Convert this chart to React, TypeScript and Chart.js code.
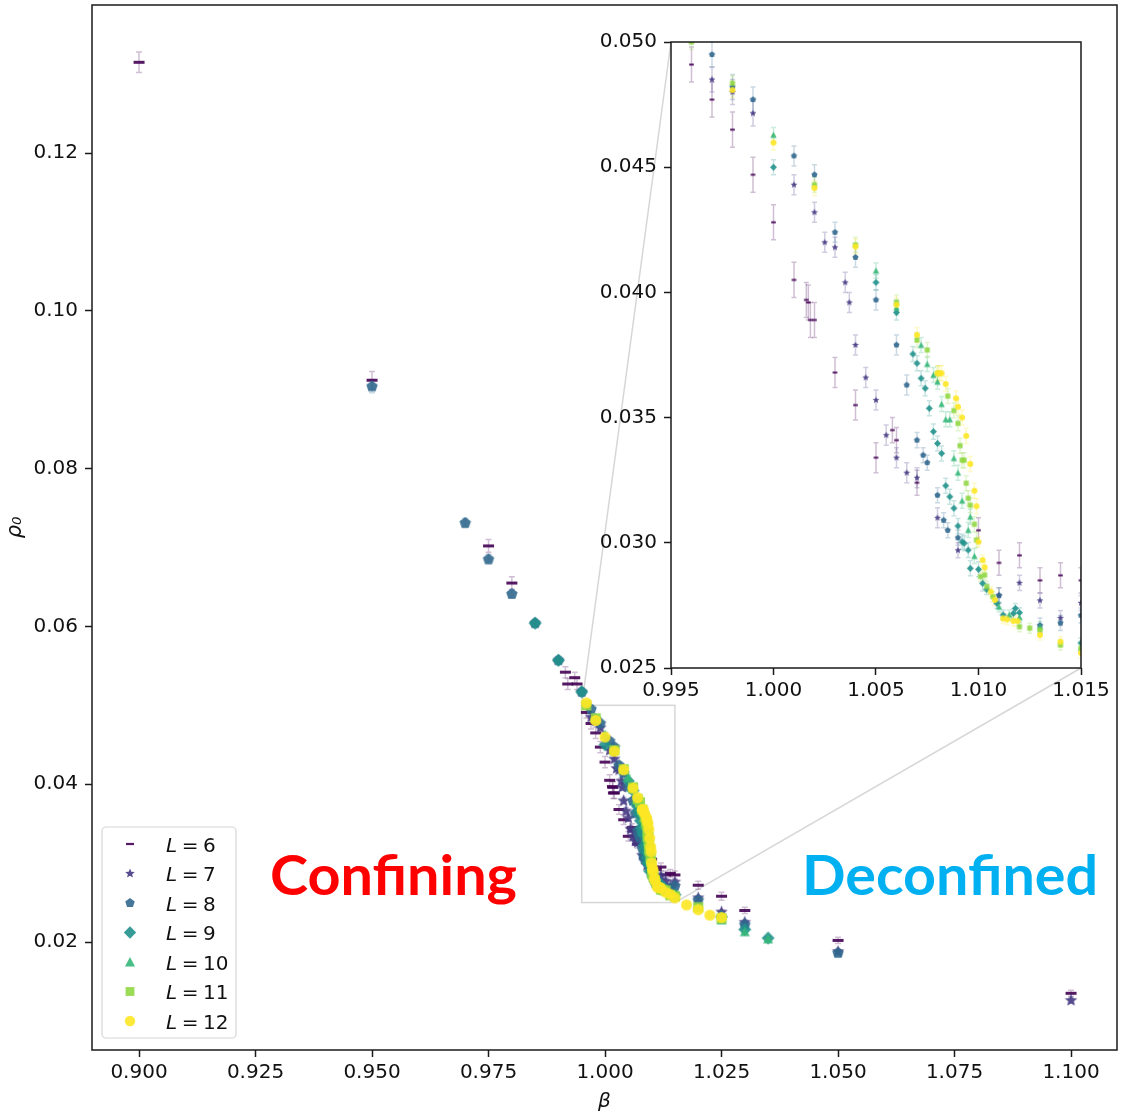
import React, { useEffect, useRef } from 'react';
import { Chart, registerables } from 'chart.js';

Chart.register(...registerables);

// ---------------- data ----------------
const SERIES_L = [6, 7, 8, 9, 10, 11, 12];
const SERIES_COLORS = ['#440154', '#443983', '#31688e', '#21918c', '#35b779', '#90d743', '#fde725'];
const SERIES_SHAPES = ['dash', 'star', 'pentagon', 'diamond', 'triangle', 'square', 'circle'];

const BETA_L6 = [0.9, 0.95, 0.975, 0.98, 0.9915, 0.992, 0.9935, 0.994, 0.996, 0.997, 0.998, 0.999, 1.0, 1.001, 1.0016, 1.0017, 1.0018, 1.002, 1.003, 1.004, 1.005, 1.0058, 1.006, 1.007, 1.01, 1.011, 1.012, 1.013, 1.014, 1.015, 1.02, 1.025, 1.03, 1.05, 1.1];
const RHO_L6 = [0.1315, 0.0912, 0.0702, 0.0655, 0.0542, 0.0527, 0.0535, 0.0527, 0.0491, 0.0477, 0.0465, 0.0447, 0.0428, 0.0405, 0.0397, 0.0396, 0.0389, 0.0389, 0.0368, 0.0355, 0.0334, 0.0345, 0.0341, 0.0324, 0.0305, 0.0292, 0.0295, 0.0285, 0.0287, 0.0285, 0.0272, 0.0258, 0.024, 0.0202, 0.0135];
const ERR_L6 = [0.0013, 0.0011, 0.0008, 0.0008, 0.0007, 0.0007, 0.0007, 0.0007, 0.0007, 0.0007, 0.0007, 0.0007, 0.0007, 0.0007, 0.0007, 0.0007, 0.0007, 0.0007, 0.0006, 0.0006, 0.0006, 0.0005, 0.0005, 0.0005, 0.0005, 0.0005, 0.0005, 0.0005, 0.0005, 0.0005, 0.0005, 0.0005, 0.0004, 0.0004, 0.0004];

const BETA_L7 = [0.997, 0.998, 0.999, 1.001, 1.002, 1.0025, 1.003, 1.0035, 1.0037, 1.004, 1.0045, 1.005, 1.0055, 1.006, 1.0065, 1.007, 1.008, 1.009, 1.011, 1.012, 1.013, 1.014, 1.015, 1.02, 1.025, 1.03, 1.05, 1.1];
const RHO_L7 = [0.0485, 0.048, 0.04715, 0.0443, 0.0432, 0.042, 0.0418, 0.0404, 0.0396, 0.0379, 0.0366, 0.0357, 0.0343, 0.0334, 0.0328, 0.0326, 0.031, 0.0297, 0.0279, 0.0284, 0.0277, 0.027, 0.0276, 0.0256, 0.0238, 0.0225, 0.0188, 0.0126];
const ERR_L7 = [0.0005, 0.0005, 0.0005, 0.0004, 0.0004, 0.0004, 0.0004, 0.0004, 0.0004, 0.0004, 0.0004, 0.0004, 0.0004, 0.0004, 0.0004, 0.0004, 0.0004, 0.0003, 0.0003, 0.0003, 0.0003, 0.0003, 0.0003, 0.0003, 0.0003, 0.0003, 0.0003, 0.0003];

const BETA_L8 = [0.95, 0.97, 0.975, 0.98, 0.985, 0.99, 0.995, 0.997, 0.998, 0.999, 1.001, 1.002, 1.003, 1.004, 1.005, 1.006, 1.0065, 1.007, 1.0073, 1.0075, 1.008, 1.0083, 1.0085, 1.009, 1.011, 1.013, 1.014, 1.015, 1.02, 1.03, 1.05];
const RHO_L8 = [0.0904, 0.0731, 0.0685, 0.0641, 0.0604, 0.0557, 0.0517, 0.0495, 0.0482, 0.0477, 0.04545, 0.0447, 0.0424, 0.0414, 0.0397, 0.0379, 0.0363, 0.0341, 0.0335, 0.0332, 0.0319, 0.0309, 0.0305, 0.0302, 0.0279, 0.0267, 0.0268, 0.0271, 0.0253, 0.0222, 0.0186];
const ERR_L8 = [0.0008, 0.0006, 0.0006, 0.0005, 0.0005, 0.0005, 0.0005, 0.0005, 0.0005, 0.0005, 0.0004, 0.0004, 0.0004, 0.0004, 0.0004, 0.0004, 0.0004, 0.0003, 0.0003, 0.0003, 0.0003, 0.0003, 0.0003, 0.0003, 0.0003, 0.0003, 0.0003, 0.0003, 0.0003, 0.0003, 0.0003];

const BETA_L9 = [0.985, 0.99, 0.995, 1.0, 1.005, 1.006, 1.0068, 1.007, 1.0072, 1.0074, 1.0076, 1.0078, 1.008, 1.0082, 1.0084, 1.0086, 1.0088, 1.009, 1.0092, 1.0093, 1.0095, 1.0096, 1.01, 1.0102, 1.0104, 1.0109, 1.0112, 1.0117, 1.0118, 1.012, 1.015, 1.025, 1.03, 1.035];
const RHO_L9 = [0.0604, 0.0557, 0.0517, 0.045, 0.0404, 0.0392, 0.03754, 0.03717, 0.03657, 0.03617, 0.03537, 0.03444, 0.03397, 0.03357, 0.03228, 0.03184, 0.03138, 0.03067, 0.03004, 0.02998, 0.02971, 0.02898, 0.02894, 0.02838, 0.02814, 0.02758, 0.02712, 0.02718, 0.02738, 0.02721, 0.026, 0.0232, 0.0216, 0.0205];
const ERR_L9 = [0.0004, 0.0004, 0.0003, 0.0003, 0.0003, 0.0003, 0.0003, 0.0003, 0.0003, 0.0003, 0.0003, 0.0003, 0.0003, 0.0003, 0.0003, 0.0003, 0.0003, 0.0003, 0.0003, 0.0003, 0.0003, 0.0003, 0.0003, 0.0003, 0.0002, 0.0002, 0.0002, 0.0002, 0.0002, 0.0002, 0.0002, 0.0002, 0.0002, 0.0002];

const BETA_L10 = [1.0, 1.005, 1.006, 1.0072, 1.0075, 1.0078, 1.008, 1.0082, 1.0084, 1.0086, 1.0088, 1.009, 1.0092, 1.0095, 1.0096, 1.0098, 1.011, 1.0115, 1.012, 1.013, 1.015, 1.025, 1.03, 1.035];
const RHO_L10 = [0.04629, 0.04087, 0.0394, 0.0379, 0.03714, 0.0367, 0.03643, 0.03554, 0.03493, 0.03493, 0.03338, 0.0328, 0.03168, 0.03051, 0.03104, 0.02947, 0.02745, 0.02712, 0.02702, 0.02665, 0.0258, 0.0228, 0.0213, 0.0204];
const ERR_L10 = [0.0003, 0.0003, 0.0003, 0.0003, 0.0003, 0.0003, 0.0003, 0.0003, 0.0003, 0.0003, 0.0003, 0.0003, 0.0003, 0.0003, 0.0003, 0.0003, 0.0002, 0.0002, 0.0002, 0.0002, 0.0002, 0.0002, 0.0002, 0.0002];

const BETA_L11 = [0.996, 0.998, 1.002, 1.004, 1.006, 1.007, 1.0075, 1.008, 1.0085, 1.0088, 1.009, 1.0091, 1.0092, 1.0093, 1.0094, 1.0095, 1.0096, 1.0098, 1.0099, 1.0101, 1.0103, 1.0104, 1.0107, 1.012, 1.0125, 1.013, 1.014, 1.015, 1.02, 1.025];
const RHO_L11 = [0.05, 0.04835, 0.0443, 0.0419, 0.0396, 0.0381, 0.0377, 0.03677, 0.03586, 0.03528, 0.03477, 0.03388, 0.0333, 0.0333, 0.03238, 0.03178, 0.0315, 0.03074, 0.03011, 0.02865, 0.02871, 0.02825, 0.02785, 0.02665, 0.02659, 0.02652, 0.02592, 0.0258, 0.0244, 0.023];
const ERR_L11 = [0.0003, 0.0003, 0.0003, 0.0003, 0.0003, 0.0003, 0.0003, 0.0003, 0.0003, 0.0003, 0.0003, 0.0003, 0.0003, 0.0003, 0.0003, 0.0003, 0.0003, 0.0003, 0.0003, 0.0002, 0.0002, 0.0002, 0.0002, 0.0002, 0.0002, 0.0002, 0.0002, 0.0002, 0.0002, 0.0002];

const BETA_L12 = [0.996, 0.998, 1.0, 1.002, 1.004, 1.006, 1.007, 1.008, 1.0081, 1.0082, 1.0084, 1.0089, 1.009, 1.0092, 1.0094, 1.0096, 1.0098, 1.0099, 1.01, 1.0102, 1.0103, 1.0106, 1.0108, 1.0112, 1.0114, 1.0117, 1.0119, 1.013, 1.014, 1.015, 1.0175, 1.02, 1.0225, 1.025];
const RHO_L12 = [0.0503, 0.04808, 0.04598, 0.04417, 0.04183, 0.0395, 0.0383, 0.03677, 0.03677, 0.03677, 0.03634, 0.03577, 0.03543, 0.035, 0.03427, 0.03315, 0.03208, 0.03146, 0.03004, 0.02931, 0.02902, 0.02805, 0.02772, 0.02698, 0.02694, 0.02688, 0.02688, 0.02632, 0.02605, 0.0256, 0.0247, 0.0241, 0.0234, 0.0231];
const ERR_L12 = [0.0003, 0.0003, 0.0003, 0.0003, 0.0003, 0.0003, 0.0003, 0.0003, 0.0003, 0.0003, 0.0003, 0.0003, 0.0003, 0.0003, 0.0003, 0.0003, 0.0003, 0.0003, 0.0002, 0.0002, 0.0002, 0.0002, 0.0002, 0.0002, 0.0002, 0.0002, 0.0002, 0.0002, 0.0002, 0.0002, 0.0002, 0.0002, 0.0002, 0.0002];

const MAIN_X_TICKS = [0.9, 0.925, 0.95, 0.975, 1.0, 1.025, 1.05, 1.075, 1.1];
const MAIN_Y_TICKS = [0.02, 0.04, 0.06, 0.08, 0.1, 0.12];
const INSET_X_TICKS = [0.995, 1.0, 1.005, 1.01, 1.015];
const INSET_Y_TICKS = [0.025, 0.03, 0.035, 0.04, 0.045, 0.05];
const MAIN_X_RANGE = [0.88991, 1.10987];
const MAIN_Y_RANGE = [0.006312, 0.138758];
const INSET_X_RANGE = [0.995, 1.015];
const INSET_Y_RANGE = [0.025, 0.05];
const X_TITLE = 'β';
const Y_TITLE = 'ρ₀';
const PHASE_LABELS = ['Confining', 'Deconfined'];

const SERIES = [
  { beta: BETA_L6, rho: RHO_L6, err: ERR_L6 },
  { beta: BETA_L7, rho: RHO_L7, err: ERR_L7 },
  { beta: BETA_L8, rho: RHO_L8, err: ERR_L8 },
  { beta: BETA_L9, rho: RHO_L9, err: ERR_L9 },
  { beta: BETA_L10, rho: RHO_L10, err: ERR_L10 },
  { beta: BETA_L11, rho: RHO_L11, err: ERR_L11 },
  { beta: BETA_L12, rho: RHO_L12, err: ERR_L12 },
];

// ---------------- styles / layout ----------------
const FIG_W = 1127;
const FIG_H = 1117;
const INSET_CANVAS = { left: 590, top: 28, width: 537, height: 682 };
const MAIN_SIZES = [5.5, 6.5, 6, 6.5, 5, 6, 5.5];
const INSET_SIZES = [2.3, 3.6, 3.2, 3.5, 3.2, 3.0, 3.0];
const LEGEND_SIZES = [4, 5, 5, 6.2, 5, 5.2, 5.2];
const LEGEND_BOX = { x: 102, y: 827, w: 134, h: 211, rowStart: 17, rowStep: 29.5, markerX: 130, textX: 166 };
const PHASE_STYLE = [
  { x: 270, baseline: 895, width: 247, color: '#ff0000' },
  { x: 802, baseline: 895, width: 296, color: '#00b0f0' },
];
const TICK_FONT = { family: 'DejaVu Sans', size: 20 };
const TEXT_COLOR = '#111111';

function hexToRgba(hex: string, a: number) {
  const n = parseInt(hex.slice(1), 16);
  return `rgba(${(n >> 16) & 255},${(n >> 8) & 255},${n & 255},${a})`;
}

function drawMarker(ctx: CanvasRenderingContext2D, shape: string, x: number, y: number, s: number, color: string) {
  ctx.fillStyle = color;
  if (shape === 'dash') {
    const h = Math.max(2, s * 0.55);
    ctx.fillRect(x - s, y - h / 2, 2 * s, h);
    return;
  }
  ctx.beginPath();
  if (shape === 'circle') {
    ctx.arc(x, y, s, 0, Math.PI * 2);
  } else if (shape === 'square') {
    const a = s * 0.85;
    ctx.rect(x - a, y - a, 2 * a, 2 * a);
  } else if (shape === 'diamond') {
    ctx.moveTo(x, y - s);
    ctx.lineTo(x + s, y);
    ctx.lineTo(x, y + s);
    ctx.lineTo(x - s, y);
    ctx.closePath();
  } else if (shape === 'triangle') {
    ctx.moveTo(x, y - s);
    ctx.lineTo(x + s, y + s * 0.9);
    ctx.lineTo(x - s, y + s * 0.9);
    ctx.closePath();
  } else if (shape === 'pentagon') {
    for (let k = 0; k < 5; k++) {
      const ang = -Math.PI / 2 + (k * 2 * Math.PI) / 5;
      const px = x + s * Math.cos(ang);
      const py = y + s * Math.sin(ang);
      if (k === 0) ctx.moveTo(px, py);
      else ctx.lineTo(px, py);
    }
    ctx.closePath();
  } else if (shape === 'star') {
    for (let k = 0; k < 10; k++) {
      const r = k % 2 === 0 ? s : s * 0.45;
      const ang = -Math.PI / 2 + (k * Math.PI) / 5;
      const px = x + r * Math.cos(ang);
      const py = y + r * Math.sin(ang);
      if (k === 0) ctx.moveTo(px, py);
      else ctx.lineTo(px, py);
    }
    ctx.closePath();
  }
  ctx.fill();
}

function makeMarkerCanvas(shape: string, s: number, color: string) {
  const size = Math.ceil(2 * s + 4);
  const c = document.createElement('canvas');
  c.width = size;
  c.height = size;
  const ctx = c.getContext('2d')!;
  drawMarker(ctx, shape, size / 2, size / 2, s, color);
  return c;
}

function buildDatasets(sizes: number[]) {
  return SERIES.map((sr, i) => ({
    label: `L = ${SERIES_L[i]}`,
    data: sr.beta.map((b, j) => ({ x: b, y: sr.rho[j] })),
    errors: sr.err,
    errColor: hexToRgba(SERIES_COLORS[i], 0.25),
    pointStyle: makeMarkerCanvas(SERIES_SHAPES[i], sizes[i], hexToRgba(SERIES_COLORS[i], 0.9)),
    pointRadius: 3,
    pointHoverRadius: 3,
    pointBorderWidth: 0,
    showLine: false,
    order: 6 - i,
  }));
}

function makeErrorBarPlugin(cap: number) {
  return {
    id: 'errorBars',
    beforeDatasetsDraw(chart: any) {
      const { ctx, chartArea: a, scales } = chart;
      const ys = scales.y;
      ctx.save();
      ctx.beginPath();
      ctx.rect(a.left, a.top, a.right - a.left, a.bottom - a.top);
      ctx.clip();
      ctx.lineWidth = 1.5;
      chart.data.datasets.forEach((ds: any, i: number) => {
        const meta = chart.getDatasetMeta(i);
        ctx.strokeStyle = ds.errColor;
        ds.data.forEach((p: any, j: number) => {
          const el = meta.data[j];
          if (!el) return;
          const x = el.x;
          const y1 = ys.getPixelForValue(p.y + ds.errors[j]);
          const y2 = ys.getPixelForValue(p.y - ds.errors[j]);
          ctx.beginPath();
          ctx.moveTo(x, y1);
          ctx.lineTo(x, y2);
          ctx.moveTo(x - cap, y1);
          ctx.lineTo(x + cap, y1);
          ctx.moveTo(x - cap, y2);
          ctx.lineTo(x + cap, y2);
          ctx.stroke();
        });
      });
      ctx.restore();
    },
  };
}

const spinePlugin = {
  id: 'spines',
  afterDraw(chart: any) {
    const { ctx, chartArea: a } = chart;
    ctx.save();
    ctx.strokeStyle = '#1a1a1a';
    ctx.lineWidth = 1.5;
    ctx.strokeRect(a.left, a.top, a.right - a.left, a.bottom - a.top);
    ctx.restore();
  },
};

const whiteAreaPlugin = {
  id: 'whiteArea',
  beforeDraw(chart: any) {
    const { ctx, chartArea: a } = chart;
    ctx.save();
    ctx.fillStyle = '#ffffff';
    ctx.fillRect(a.left, a.top, a.right - a.left, a.bottom - a.top);
    ctx.restore();
  },
};

function drawLegend(ctx: CanvasRenderingContext2D) {
  const b = LEGEND_BOX;
  ctx.save();
  const r = 4;
  ctx.beginPath();
  ctx.moveTo(b.x + r, b.y);
  ctx.arcTo(b.x + b.w, b.y, b.x + b.w, b.y + b.h, r);
  ctx.arcTo(b.x + b.w, b.y + b.h, b.x, b.y + b.h, r);
  ctx.arcTo(b.x, b.y + b.h, b.x, b.y, r);
  ctx.arcTo(b.x, b.y, b.x + b.w, b.y, r);
  ctx.closePath();
  ctx.fillStyle = 'rgba(255,255,255,0.85)';
  ctx.fill();
  ctx.strokeStyle = '#d6d6d6';
  ctx.lineWidth = 1.2;
  ctx.stroke();
  ctx.textBaseline = 'alphabetic';
  ctx.textAlign = 'left';
  SERIES_L.forEach((L, i) => {
    const cy = b.y + b.rowStart + i * b.rowStep;
    drawMarker(ctx, SERIES_SHAPES[i], b.markerX, cy, LEGEND_SIZES[i], hexToRgba(SERIES_COLORS[i], 0.9));
    const base = cy + 7.5;
    let tx = b.textX;
    ctx.fillStyle = TEXT_COLOR;
    ctx.font = 'italic 20px "DejaVu Sans"';
    ctx.fillText('L', tx, base);
    tx += ctx.measureText('L').width + 4.5;
    ctx.font = '20px "DejaVu Sans"';
    ctx.fillText('=', tx, base);
    tx += ctx.measureText('=').width + 4.5;
    ctx.fillText(String(L), tx, base);
  });
  ctx.restore();
}

function drawPhaseLabels(ctx: CanvasRenderingContext2D) {
  PHASE_LABELS.forEach((txt, i) => {
    const st = PHASE_STYLE[i];
    ctx.save();
    ctx.font = 'bold 56px Lato';
    ctx.fillStyle = st.color;
    ctx.textBaseline = 'alphabetic';
    ctx.textAlign = 'left';
    const w = ctx.measureText(txt).width;
    ctx.translate(st.x, st.baseline);
    ctx.scale(st.width / w, 1);
    ctx.fillText(txt, 0, 0);
    ctx.restore();
  });
}

function makeMainOverlay(insetChart: any) {
  return {
    id: 'mainOverlay',
    beforeDatasetsDraw(chart: any) {
      const { ctx, scales } = chart;
      const xs = scales.x;
      const ys = scales.y;
      const x0 = xs.getPixelForValue(INSET_X_RANGE[0]);
      const x1 = xs.getPixelForValue(INSET_X_RANGE[1]);
      const y0 = ys.getPixelForValue(INSET_Y_RANGE[0]);
      const y1 = ys.getPixelForValue(INSET_Y_RANGE[1]);
      const ia = insetChart.chartArea;
      const iL = INSET_CANVAS.left + ia.left;
      const iT = INSET_CANVAS.top + ia.top;
      const iR = INSET_CANVAS.left + ia.right;
      const iB = INSET_CANVAS.top + ia.bottom;
      ctx.save();
      ctx.strokeStyle = 'rgba(0,0,0,0.16)';
      ctx.lineWidth = 1.5;
      ctx.strokeRect(x0, y1, x1 - x0, y0 - y1);
      ctx.beginPath();
      ctx.moveTo(x0, y1);
      ctx.lineTo(iL, iT);
      ctx.moveTo(x1, y0);
      ctx.lineTo(iR, iB);
      ctx.stroke();
      ctx.restore();
    },
    afterDraw(chart: any) {
      drawLegend(chart.ctx);
      drawPhaseLabels(chart.ctx);
    },
  };
}

function axisCommon(ticks: number[], range: number[], decimals: number, fitSize: number, horizontal: boolean) {
  return {
    type: 'linear',
    min: range[0],
    max: range[1],
    afterBuildTicks: (scale: any) => {
      scale.ticks = ticks.map((v) => ({ value: v }));
    },
    afterFit: (scale: any) => {
      if (horizontal) scale.height = fitSize;
      else scale.width = fitSize;
      scale.paddingTop = 0;
      scale.paddingBottom = 0;
      scale.paddingLeft = 0;
      scale.paddingRight = 0;
    },
    ticks: {
      autoSkip: false,
      maxRotation: 0,
      minRotation: 0,
      padding: horizontal ? 4 : 7,
      color: TEXT_COLOR,
      font: TICK_FONT,
      callback: (v: any) => Number(v).toFixed(decimals),
    },
    grid: {
      drawOnChartArea: false,
      drawTicks: true,
      tickLength: 7,
      tickWidth: 1.5,
      tickColor: '#1a1a1a',
    },
    border: { display: false },
  };
}

export default function App() {
  const mainRef = useRef<HTMLCanvasElement>(null);
  const insetRef = useRef<HTMLCanvasElement>(null);

  useEffect(() => {
    const insetChart = new Chart(insetRef.current as HTMLCanvasElement, {
      type: 'scatter',
      data: { datasets: buildDatasets(INSET_SIZES) as any },
      options: {
        responsive: false,
        animation: false,
        devicePixelRatio: 1,
        events: [],
        layout: { padding: { left: 0, top: 14, right: 46, bottom: 0 } },
        plugins: { legend: { display: false }, tooltip: { enabled: false } },
        scales: {
          x: axisCommon(INSET_X_TICKS, INSET_X_RANGE, 3, 42, true) as any,
          y: axisCommon(INSET_Y_TICKS, INSET_Y_RANGE, 3, 81, false) as any,
        },
      },
      plugins: [whiteAreaPlugin, makeErrorBarPlugin(2.5), spinePlugin],
    });

    const mainX: any = axisCommon(MAIN_X_TICKS, MAIN_X_RANGE, 3, 67, true);
    mainX.title = {
      display: true,
      text: X_TITLE,
      color: TEXT_COLOR,
      font: { family: 'DejaVu Sans', size: 20, style: 'italic' },
      padding: { top: 0, bottom: 3 },
    };
    const mainY: any = axisCommon(MAIN_Y_TICKS, MAIN_Y_RANGE, 2, 92, false);
    mainY.title = {
      display: true,
      text: Y_TITLE,
      color: TEXT_COLOR,
      font: { family: 'DejaVu Sans', size: 21, style: 'italic' },
      padding: { top: 3, bottom: 0 },
    };

    const mainChart = new Chart(mainRef.current as HTMLCanvasElement, {
      type: 'scatter',
      data: { datasets: buildDatasets(MAIN_SIZES) as any },
      options: {
        responsive: false,
        animation: false,
        devicePixelRatio: 1,
        events: [],
        layout: { padding: { left: 0, top: 5, right: 10, bottom: 0 } },
        plugins: { legend: { display: false }, tooltip: { enabled: false } },
        scales: { x: mainX, y: mainY },
      },
      plugins: [makeMainOverlay(insetChart), makeErrorBarPlugin(3), spinePlugin],
    });

    return () => {
      mainChart.destroy();
      insetChart.destroy();
    };
  }, []);

  return (
    <div style={{ position: 'absolute', left: 0, top: 0, width: FIG_W, height: FIG_H, background: '#ffffff', overflow: 'hidden' }}>
      <canvas ref={mainRef} width={FIG_W} height={FIG_H} style={{ position: 'absolute', left: 0, top: 0 }} />
      <canvas
        ref={insetRef}
        width={INSET_CANVAS.width}
        height={INSET_CANVAS.height}
        style={{ position: 'absolute', left: INSET_CANVAS.left, top: INSET_CANVAS.top }}
      />
    </div>
  );
}
